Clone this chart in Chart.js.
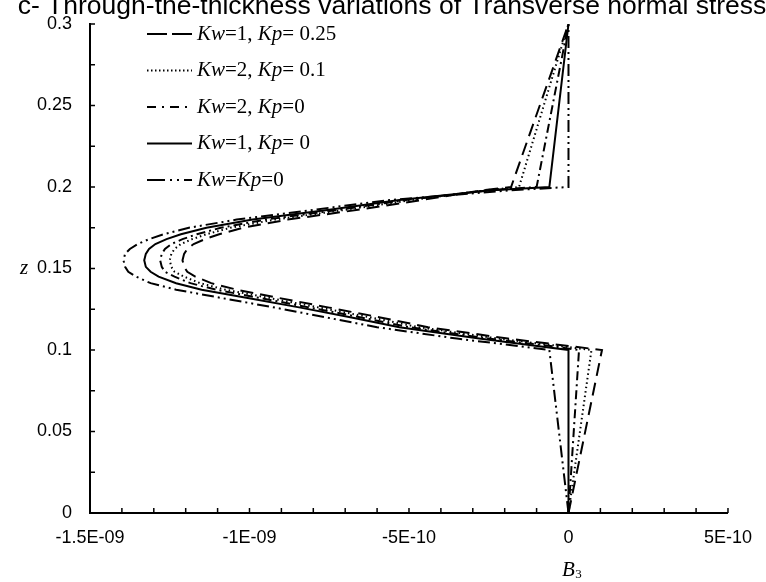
<!DOCTYPE html>
<html lang="en">
<head>
<meta charset="UTF-8">
<title>Transverse normal stress</title>
<style>
    html, body { margin: 0; padding: 0; background: #fff; overflow: hidden; }
    #wrap { position: absolute; left: 0; top: -10px; width: 766px; height: 592px; }
</style>
</head>
<body>
<div id="wrap"><canvas id="chart"></canvas></div>
<script src="https://cdn.jsdelivr.net/npm/chart.js"></script>
<script>
// thickness coordinate z, shared by every curve
const zValues = [0, 0.1, 0.102, 0.107, 0.114, 0.120, 0.126, 0.132, 0.137, 0.141, 0.145, 0.148, 0.151,
    0.155, 0.159, 0.162, 0.165, 0.168, 0.171, 0.175, 0.180, 0.186, 0.192, 0.198, 0.2, 0.3];

// B3, in units of 1E-10
const b3Kw1Kp025 = [0, 1.05, 0.2, -1.9, -4.4, -5.9, -7.5, -9.1, -10.4, -11.2, -11.7, -11.95, -12.05,
    -12.1, -12.05, -11.95, -11.75, -11.4, -10.95, -10.2, -8.8, -6.6, -4.6, -2.7, -1.8, 0];
const b3Kw2Kp01 = [0, 0.72, -0.1, -2.2, -4.7, -6.2, -7.8, -9.4, -10.75, -11.55, -12.05, -12.35, -12.45,
    -12.5, -12.45, -12.35, -12.15, -11.8, -11.35, -10.6, -9.2, -7.0, -4.9, -2.6, -1.55, 0];
const b3Kw2Kp0 = [0, 0.33, -0.4, -2.5, -5.0, -6.5, -8.1, -9.7, -11.05, -11.85, -12.35, -12.65, -12.75,
    -12.8, -12.75, -12.65, -12.45, -12.1, -11.65, -10.9, -9.5, -7.2, -5.1, -2.5, -1.0, 0];
const b3Kw1Kp0 = [0, 0, -0.8, -2.8, -5.3, -6.8, -8.4, -10.1, -11.5, -12.3, -12.85, -13.1, -13.25,
    -13.3, -13.25, -13.15, -12.95, -12.6, -12.15, -11.35, -9.9, -7.5, -5.3, -2.4, -0.6, 0];
const b3KwKp0 = [0, -0.6, -1.4, -3.5, -6.0, -7.6, -9.2, -10.9, -12.3, -13.1, -13.55, -13.8, -13.9,
    -13.95, -13.9, -13.75, -13.5, -13.15, -12.7, -11.9, -10.4, -8.0, -5.6, -1.8, 0, 0];

const seriesNames = ['Kw=1, Kp= 0.25', 'Kw=2, Kp= 0.1', 'Kw=2, Kp=0', 'Kw=1, Kp= 0', 'Kw=Kp=0'];
const seriesValues = [b3Kw1Kp025, b3Kw2Kp01, b3Kw2Kp0, b3Kw1Kp0, b3KwKp0];

const xTickLabels = ['-1.5E-09', '-1E-09', '-5E-10', '0', '5E-10'];
const yTickLabels = ['0', '0.05', '0.1', '0.15', '0.2', '0.25', '0.3'];

const chartTitle = 'c- Through-the-thickness variations of Transverse normal stress';

// line styles: dash in the plot, dash in the legend key
const plotDash = [[13, 7], [1.5, 3], [9, 4, 2, 4], [], [12, 4, 2, 4, 2, 4]];
const keyDash = [[20, 5], [1.5, 2.5], [9, 6, 2, 6], [], [18, 5, 2, 5, 2, 5]];

const serif = '"Liberation Serif", "Times New Roman", serif';
const sans = '"Liberation Sans", Arial, sans-serif';

const datasets = seriesValues.map((vals, i) => ({
    label: seriesNames[i],
    data: vals.map((v, k) => ({ x: v, y: zValues[k] })),
    showLine: true,
    borderColor: '#000',
    borderWidth: 2,
    borderDash: plotDash[i],
    pointRadius: 0,
    tension: 0,
    fill: false
}));

function line(ctx, x1, y1, x2, y2) {
    ctx.beginPath();
    ctx.moveTo(x1, y1);
    ctx.lineTo(x2, y2);
    ctx.stroke();
}

const decorations = {
    id: 'decorations',
    afterDraw(chart) {
        const { ctx, chartArea: a, scales: { x, y } } = chart;
        ctx.save();
        ctx.strokeStyle = '#000';
        ctx.fillStyle = '#000';
        ctx.lineWidth = 1.5;

        // title, partly cut off at the top as in the source figure
        ctx.font = '26.5px ' + sans;
        ctx.textAlign = 'center';
        ctx.textBaseline = 'alphabetic';
        ctx.fillText(chartTitle, 392, 24);

        // small tick marks pointing into the plot
        x.ticks.forEach(t => {
            const px = x.getPixelForValue(t.value);
            line(ctx, px, a.bottom, px, a.bottom - 5);
        });
        y.ticks.forEach(t => {
            const py = y.getPixelForValue(t.value);
            line(ctx, a.left, py, a.left + 5, py);
        });

        // legend inside the plot, top left
        ctx.textAlign = 'left';
        ctx.textBaseline = 'middle';
        seriesNames.forEach((name, i) => {
            const yy = a.top + 10 + i * 36.5;
            ctx.lineWidth = 2;
            ctx.setLineDash(keyDash[i]);
            line(ctx, a.left + 57, yy, a.left + 102, yy);
            ctx.setLineDash([]);
            let xx = a.left + 107;
            name.split(/(Kw|Kp)/).forEach(part => {
                if (!part) return;
                const italic = part === 'Kw' || part === 'Kp';
                ctx.font = (italic ? 'italic ' : '') + '21px ' + serif;
                ctx.fillText(part, xx, yy);
                xx += ctx.measureText(part).width;
            });
        });

        // axis titles
        ctx.textAlign = 'center';
        ctx.font = 'italic 21px ' + serif;
        ctx.fillText('z', 24, y.getPixelForValue(0.15));
        const bx = x.getPixelForValue(0);
        const by = a.bottom + 57;
        ctx.fillText('B', bx, by);
        ctx.font = '13px ' + serif;
        ctx.fillText('3', bx + 10, by + 5);
        ctx.restore();
    }
};

const chart = new Chart(document.getElementById('chart'), {
    type: 'scatter',
    data: { datasets: datasets },
    options: {
        responsive: true,
        maintainAspectRatio: false,
        animation: false,
        devicePixelRatio: 1,
        layout: { padding: { left: 0, right: 34, top: 34, bottom: 0 } },
        plugins: {
            legend: { display: false },
            tooltip: { enabled: false },
            title: { display: false }
        },
        scales: {
            x: {
                type: 'linear',
                min: -15,
                max: 5,
                afterFit: s => { s.height = 69; },
                grid: { display: true, drawOnChartArea: false, drawTicks: false },
                border: { display: true, color: '#000', width: 2 },
                ticks: {
                    stepSize: 1,
                    autoSkip: false,
                    maxRotation: 0,
                    padding: 14,
                    color: '#000',
                    font: { family: sans, size: 18 },
                    callback: (v, i) => (i % 5 === 0 ? xTickLabels[i / 5] : '')
                }
            },
            y: {
                type: 'linear',
                min: 0,
                max: 0.3,
                afterFit: s => { s.width = 90; },
                grid: { display: true, drawOnChartArea: false, drawTicks: false },
                border: { display: true, color: '#000', width: 2 },
                ticks: {
                    stepSize: 0.025,
                    autoSkip: false,
                    padding: 18,
                    color: '#000',
                    font: { family: sans, size: 18 },
                    callback: (v, i) => (i % 2 === 0 ? yTickLabels[i / 2] : '')
                }
            }
        }
    },
    plugins: [decorations]
});
</script>
</body>
</html>
